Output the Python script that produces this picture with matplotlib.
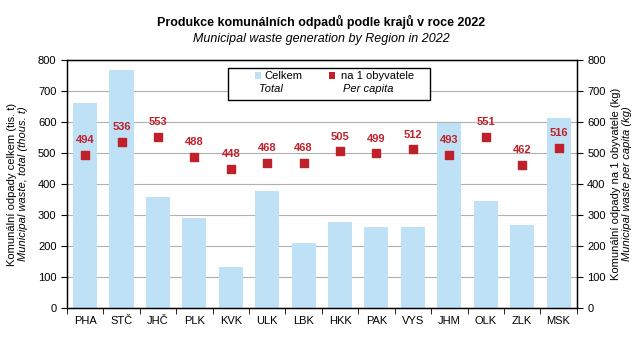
import matplotlib
matplotlib.use("Agg")
import matplotlib.pyplot as plt
import matplotlib.patches as mpatches
import numpy as np

# ── Data ──────────────────────────────────────────────────────────────────────
REGIONS = ["PHA", "STČ", "JHČ", "PLK", "KVK", "ULK", "LBK",
           "HKK", "PAK", "VYS", "JHM", "OLK", "ZLK", "MSK"]
TOTAL_KT = [660, 767, 358, 291, 131, 377, 209,
            279, 262, 262, 596, 345, 267, 612]
PER_CAPITA = [494, 536, 553, 488, 448, 468, 468,
              505, 499, 512, 493, 551, 462, 516]

BAR_COLOR = "#BEE1F5"
DOT_COLOR = "#C0202A"

plt.rcParams.update({
    "font.family": ["Liberation Sans", "DejaVu Sans"],
    "font.size": 8,
})

fig = plt.figure(figsize=(6.43, 3.51), dpi=100)
ax = fig.add_axes([0.104, 0.1225, 0.793, 0.7065])

x = np.arange(len(REGIONS))
ax.bar(x, TOTAL_KT, width=0.66, color=BAR_COLOR, zorder=2)
ax.scatter(x, PER_CAPITA, marker="s", s=30, color=DOT_COLOR, zorder=4)
for xi, v in zip(x, PER_CAPITA):
    ax.annotate(str(v), (xi, v), xytext=(0, 7), textcoords="offset points",
                ha="center", va="bottom", color=DOT_COLOR,
                fontweight="bold", fontsize=8, zorder=5)

ax.set_xlim(-0.5, len(REGIONS) - 0.5)
ax.set_ylim(0, 800)
ax.set_yticks(range(0, 801, 100))
ax.yaxis.grid(True, color="#B0B0B0", linewidth=0.8, zorder=0)
ax.set_axisbelow(True)

ax.set_xticks(x)
ax.set_xticklabels(REGIONS)
ax.set_xticks(np.arange(-0.5, len(REGIONS)), minor=True)
ax.tick_params(axis="x", which="major", length=0, pad=6)
ax.tick_params(axis="x", which="minor", length=4, direction="out")
ax.tick_params(axis="y", length=4, direction="out")

for sp in ax.spines.values():
    sp.set_color("black")
    sp.set_linewidth(1.0)

ax2 = ax.twinx()
ax2.set_ylim(0, 800)
ax2.set_yticks(range(0, 801, 100))
ax2.tick_params(axis="y", length=4, direction="out")

# Axis labels (two lines: Czech regular, English italic)
ax.text(-0.108, 0.5, "Komunální odpady celkem (tis. t)", rotation=90,
        transform=ax.transAxes, ha="center", va="center", fontsize=8)
ax.text(-0.086, 0.5, "Municipal waste, total (thous. t)", rotation=90,
        transform=ax.transAxes, ha="center", va="center", fontsize=8,
        style="italic")
ax2.text(1.076, 0.5, "Komunální odpady na 1 obyvatele (kg)", rotation=90,
         transform=ax.transAxes, ha="center", va="center", fontsize=8)
ax2.text(1.098, 0.5, "Municipal waste per capita (kg)", rotation=90,
         transform=ax.transAxes, ha="center", va="center", fontsize=8,
         style="italic")

# Titles
fig.text(0.5, 0.937, "Produkce komunálních odpadů podle krajů v roce 2022",
         ha="center", va="center", fontsize=9, fontweight="bold")
fig.text(0.5, 0.889, "Municipal waste generation by Region in 2022",
         ha="center", va="center", fontsize=9, style="italic")

# Custom legend box
lx0, ly0, lw, lh = 0.316, 0.839, 0.396, 0.129
ax.add_patch(mpatches.Rectangle((lx0, ly0), lw, lh, transform=ax.transAxes,
                                facecolor="white", edgecolor="black",
                                linewidth=1.0, zorder=6))
ax.add_patch(mpatches.Rectangle((lx0 + 0.053, ly0 + 0.083), 0.011, 0.028,
                                transform=ax.transAxes, facecolor=BAR_COLOR,
                                edgecolor="none", zorder=7))
ax.text(lx0 + 0.072, ly0 + 0.097, "Celkem", transform=ax.transAxes,
        ha="left", va="center", fontsize=8, zorder=7)
ax.text(lx0 + 0.084, ly0 + 0.044, "Total", transform=ax.transAxes,
        ha="center", va="center", fontsize=8, style="italic", zorder=7)
ax.add_patch(mpatches.Rectangle((lx0 + 0.198, ly0 + 0.083), 0.011, 0.028,
                                transform=ax.transAxes, facecolor=DOT_COLOR,
                                edgecolor="none", zorder=7))
ax.text(lx0 + 0.221, ly0 + 0.097, "na 1 obyvatele", transform=ax.transAxes,
        ha="left", va="center", fontsize=8, zorder=7)
ax.text(lx0 + 0.225, ly0 + 0.044, "Per capita", transform=ax.transAxes,
        ha="left", va="center", fontsize=8, style="italic", zorder=7)

fig.savefig("out.png", dpi=100)
